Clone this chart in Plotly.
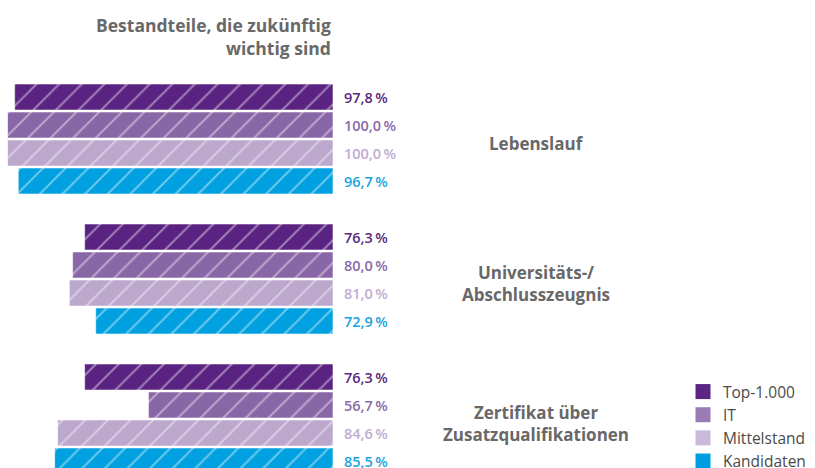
import plotly.graph_objects as go

# ---- data ----
categories = ["Lebenslauf", "Universitäts-/<br>Abschlusszeugnis", "Zertifikat über<br>Zusatzqualifikationen"]
series_names = ["Top-1.000", "IT", "Mittelstand", "Kandidaten"]
top1000 = [97.8, 76.3, 76.3]
it = [100.0, 80.0, 56.7]
mittelstand = [100.0, 81.0, 84.6]
kandidaten = [96.7, 72.9, 85.5]
series_values = [top1000, it, mittelstand, kandidaten]
title_text = "Bestandteile, die zukünftig<br>wichtig sind"

# ---- style ----
bar_colors = ["#5a2381", "#8966a6", "#bca7cd", "#00a0e1"]
legend_colors = ["#5b2583", "#9a7bb6", "#cbb9dc", "#009ee0"]
label_colors = ["#5a2a80", "#8a6aa8", "#c0acd2", "#1aa3e0"]
FONT = "Open Sans"
GRAY = "#686868"

fig = go.Figure()

for name, vals, col in zip(series_names, series_values, bar_colors):
    fig.add_trace(go.Bar(
        x=vals, y=categories, orientation="h", name=name, showlegend=False,
        marker=dict(
            color=col,
            line=dict(color="rgba(255,255,255,0.55)", width=1),
            pattern=dict(shape="/", fillmode="overlay", bgcolor=col,
                         fgcolor="rgba(255,255,255,0.85)", size=16, solidity=0.12),
        ),
        hoverinfo="skip",
    ))

# legend-only entries (solid squares)
for name, col in zip(series_names, legend_colors):
    fig.add_trace(go.Scatter(
        x=[None], y=[None], mode="markers", name=name,
        marker=dict(symbol="square", size=15, color=col),
        showlegend=True,
    ))

annotations = []
n = len(series_names)
pitch = 0.2
for j, (vals, col) in enumerate(zip(series_values, label_colors)):
    for i, v in enumerate(vals):
        txt = f"{v:.1f}".replace(".", ",") + "\u2009%"
        annotations.append(dict(
            x=0, y=i + (j - (n - 1) / 2) * pitch, xref="x", yref="y",
            text=txt, showarrow=False, xanchor="left", yanchor="middle", xshift=9,
            font=dict(family=FONT, size=14.5, color=col, weight=600),
        ))

for i, c in enumerate(categories):
    annotations.append(dict(
        x=536 / 815, y=i, xref="paper", yref="y", text=c, showarrow=False,
        xanchor="center", yanchor="middle", align="center", yshift=-4,
        font=dict(family=FONT, size=17, color=GRAY, weight=700),
    ))

annotations.append(dict(
    x=333 / 815, y=1 - 11 / 468, xref="paper", yref="paper", text=title_text,
    showarrow=False, xanchor="right", yanchor="top", align="right",
    font=dict(family=FONT, size=17.5, color=GRAY, weight=700),
))

fig.update_layout(
    width=815, height=468,
    margin=dict(l=0, r=0, t=0, b=0, autoexpand=False),
    paper_bgcolor="white", plot_bgcolor="white",
    barmode="group", bargap=0.2, bargroupgap=0.07,
    xaxis=dict(domain=[7.5 / 815, 333 / 815], range=[100, 0], visible=False, fixedrange=True),
    yaxis=dict(range=[2.35, -0.993], visible=False, fixedrange=True),
    annotations=annotations,
    legend=dict(
        x=683 / 815, y=1 - 375 / 468, xanchor="left", yanchor="top",
        font=dict(family=FONT, size=15.5, color="#4a4a4a"),
        bgcolor="rgba(0,0,0,0)", tracegroupgap=0, itemwidth=30,
    ),
    font=dict(family=FONT),
)

fig.write_html(
    "out.html",
    config={"displayModeBar": False},
    post_script=(
        "var d=document.getElementById('{plot_id}');"
        "d.style.position='fixed';d.style.top='0';d.style.left='0';"
        "document.body.style.margin='0';"
        "document.documentElement.style.overflow='hidden';"
    ),
)
